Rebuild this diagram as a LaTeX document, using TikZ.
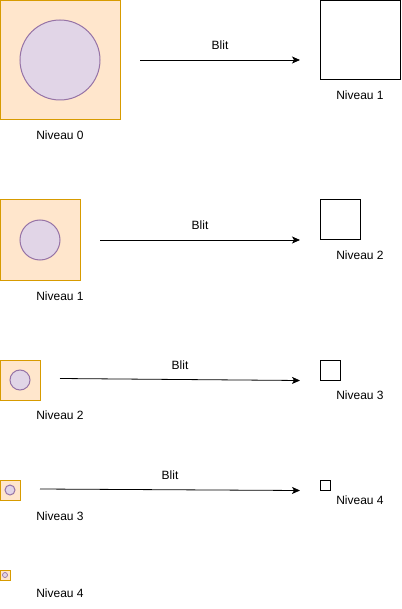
\documentclass[tikz,border=0pt]{standalone}
\usepackage{fontspec}
\setmainfont{Liberation Sans}
\usetikzlibrary{arrows.meta}
\begin{document}
\begin{tikzpicture}[x=1pt,y=-1pt,line width=1pt,
  level/.style={draw={rgb,255:red,215;green,155;blue,0},fill={rgb,255:red,255;green,230;blue,204}},
  disc/.style={draw={rgb,255:red,150;green,115;blue,166},fill={rgb,255:red,225;green,213;blue,231}},
  target/.style={draw=black,fill=white},
  lbl/.style={font=\fontsize{12}{14}\selectfont,inner sep=0pt},
  blit/.style={-{Stealth[length=8pt,width=7pt,inset=2pt]},line width=0.8pt}]
\useasboundingbox (0,0) rectangle (401,609);
% Level 0
\draw[level] (0.5,0.5) rectangle (120,120);
\draw[disc] (60,60) circle (40);
\node[lbl] (n0) at (60,135) {Niveau 0};
\coordinate (a0s) at (140,60);
\coordinate (a0e) at (300,60);
\draw[blit] (a0s) -- (a0e);
\node[lbl] (b0) at (220,45) {Blit};
\draw[target] (320,0.5) rectangle (400,80);
\node[lbl] (t1) at (360,95) {Niveau 1};
% Level 1
\draw[level] (0.5,200) rectangle (80,280);
\draw[disc] (40,240) circle (20);
\node[lbl] (n1) at (60,296) {Niveau 1};
\coordinate (a1s) at (100,240);
\coordinate (a1e) at (300,240);
\draw[blit] (a1s) -- (a1e);
\node[lbl] (b1) at (200,225) {Blit};
\draw[target] (320,200) rectangle (360,240);
\node[lbl] (t2) at (360,255) {Niveau 2};
% Level 2
\draw[level] (0.5,360) rectangle (40,400);
\draw[disc] (20,380) circle (10);
\node[lbl] (n2) at (60,415) {Niveau 2};
\coordinate (a2s) at (60,378.5);
\coordinate (a2e) at (300,380.5);
\draw[blit] (a2s) -- (a2e);
\node[lbl] (b2) at (180,365) {Blit};
\draw[target] (320,360) rectangle (340,380);
\node[lbl] (t3) at (360,395) {Niveau 3};
% Level 3
\draw[level] (0.5,480) rectangle (20,500);
\draw[disc] (10,490) circle (5);
\node[lbl] (n3) at (60,516) {Niveau 3};
\coordinate (a3s) at (40,489);
\coordinate (a3e) at (300,490.5);
\draw[blit] (a3s) -- (a3e);
\node[lbl] (b3) at (170,475) {Blit};
\draw[target] (320,480) rectangle (330,490);
\node[lbl] (t4) at (360,500) {Niveau 4};
% Level 4
\draw[level] (0.5,570) rectangle (10,580);
\draw[disc,line width=0.7pt] (5,575) circle (2.5);
\node[lbl] (n4) at (60,593) {Niveau 4};
\end{tikzpicture}
\end{document}
